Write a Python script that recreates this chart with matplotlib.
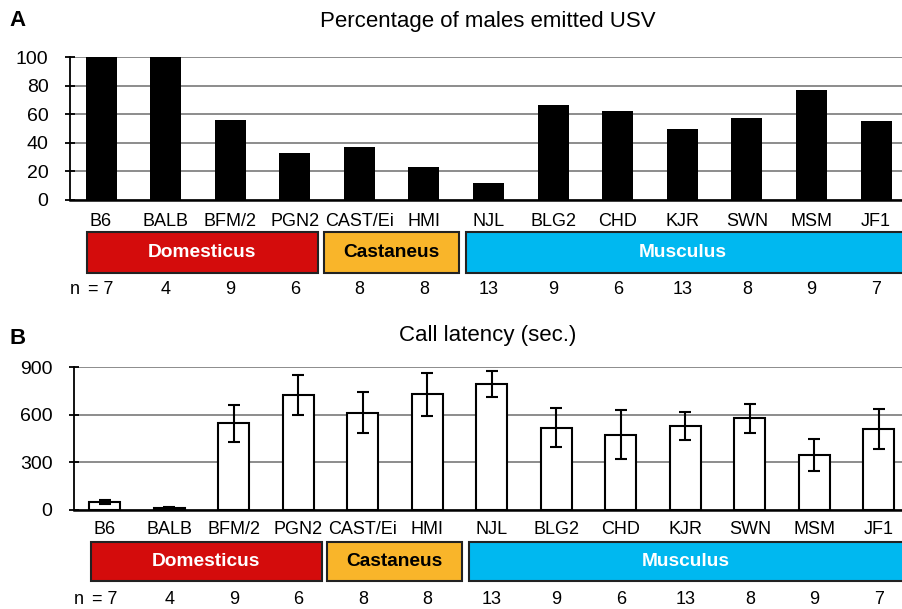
import matplotlib
matplotlib.use("Agg")
import matplotlib.pyplot as plt
import matplotlib.transforms as mtransforms
from matplotlib.patches import Rectangle

plt.rcParams['font.family'] = ['Liberation Sans', 'DejaVu Sans']

# data
strains = ['B6', 'BALB', 'BFM/2', 'PGN2', 'CAST/Ei', 'HMI', 'NJL',
           'BLG2', 'CHD', 'KJR', 'SWN', 'MSM', 'JF1']
n_mice = [7, 4, 9, 6, 8, 8, 13, 9, 6, 13, 8, 9, 7]
pct_usv = [100, 100, 55.6, 33.0, 37.2, 23.0, 12.1, 66.6, 62.4, 50.0, 57.0, 76.9, 55.4]
latency = [50, 10, 545, 723, 612, 727, 793, 519, 475, 528, 578, 345, 509]
latency_err = [12, 10, 115, 128, 130, 133, 84, 124, 156, 88, 92, 99, 126]

groups = ['Domesticus', 'Castaneus', 'Musculus']
group_span = [(-0.22, 3.36), (3.45, 5.54), (5.65, 12.6)]
group_face = ['#d40c0c', '#f9b52a', '#00b8f0']
group_text = ['white', 'black', 'white']

W, H = 902, 609
fig = plt.figure(figsize=(W / 100, H / 100), dpi=100)


def px_axes(left, top, bottom):
    return fig.add_axes([left / W, 1 - bottom / H, (W - left) / W, (bottom - top) / H])


def style(ax, ymax, step):
    ax.set_ylim(0, ymax)
    ax.set_yticks(range(0, ymax + 1, step))
    ax.yaxis.grid(True, color='#8c8c8c', linewidth=1.4)
    ax.set_axisbelow(True)
    for s in ['top', 'right']:
        ax.spines[s].set_visible(False)
    ax.spines['left'].set_linewidth(1.3)
    ax.spines['bottom'].set_linewidth(1.8)
    ax.tick_params(axis='y', direction='inout', length=7, width=1.3, pad=12,
                   labelsize=14)
    ax.set_xticks([])


def below(ax, y_lab, y_box0, y_box1, y_n):
    tr = mtransforms.blended_transform_factory(ax.transData, fig.transFigure)
    for i, s in enumerate(strains):
        ax.text(i, 1 - y_lab / H, s, transform=tr, ha='center', va='center',
                fontsize=13)
        lab = '= %d' % n_mice[i] if i == 0 else str(n_mice[i])
        ax.text(i, 1 - y_n / H, lab, transform=tr, ha='center', va='center',
                fontsize=13)
    ax.text(-0.4, 1 - y_n / H, 'n', transform=tr, ha='center', va='center',
            fontsize=13)
    for g, (a, b), fc, tc in zip(groups, group_span, group_face, group_text):
        r = Rectangle((a, 1 - y_box1 / H), b - a, (y_box1 - y_box0) / H,
                      transform=tr, facecolor=fc, edgecolor='#222222',
                      linewidth=1.5, clip_on=False)
        ax.add_patch(r)
        xm = (a + b) / 2 if g != 'Musculus' else 9.0
        ax.text(xm, 1 - (y_box0 + y_box1) / 2 / H, g, transform=tr,
                ha='center', va='center', fontsize=13.8, fontweight='bold',
                color=tc)


# panel A
axA = px_axes(70, 57, 200)
x = list(range(len(strains)))
axA.bar(x, pct_usv, width=0.48, color='black', zorder=3)
axA.set_xlim(-0.48, 12.4)
style(axA, 100, 20)
below(axA, 221, 232, 273, 290)
fig.text(488 / W, 1 - 22 / H, 'Percentage of males emitted USV',
         ha='center', va='center', fontsize=16)
fig.text(18 / W, 1 - 20 / H, 'A', ha='center', va='center', fontsize=16,
         fontweight='bold')

# panel B
axB = px_axes(74, 367, 510)
axB.bar(x, latency, width=0.48, color='white', edgecolor='black',
        linewidth=1.5, zorder=3)
axB.errorbar(x, latency, yerr=latency_err, fmt='none', ecolor='black',
             elinewidth=1.5, capsize=4.5, capthick=1.5, zorder=4)
axB.set_xlim(-0.48, 12.36)
style(axB, 900, 300)
below(axB, 530, 542, 581, 600)
fig.text(488 / W, 1 - 335 / H, 'Call latency (sec.)', ha='center',
         va='center', fontsize=16)
fig.text(18 / W, 1 - 338 / H, 'B', ha='center', va='center', fontsize=16,
         fontweight='bold')

fig.savefig('out.png', dpi=100)
